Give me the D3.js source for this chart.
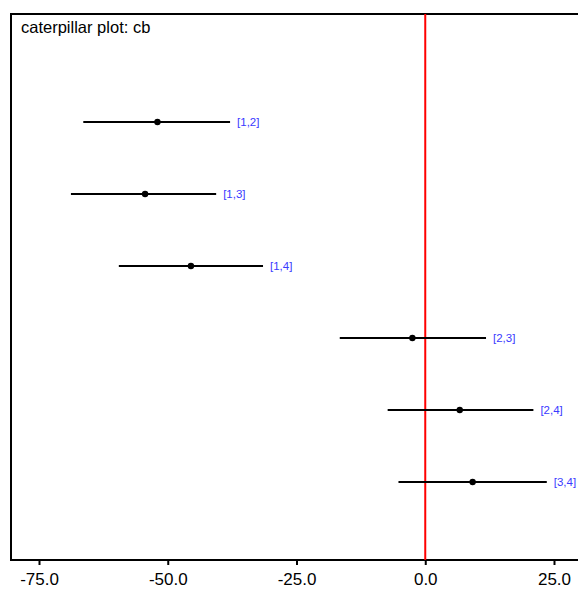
<!DOCTYPE html>
<html>
<head>
<meta charset="utf-8">
<script src="https://cdn.jsdelivr.net/npm/d3@7"></script>
<style>
  body { margin: 0; background: #fff; }
  svg { display: block; font-family: "Liberation Sans", Arial, sans-serif; }
</style>
</head>
<body>
<div id="chart"></div>
<script>
// node pairs and their 95% interval for cb
var labels = ["[1,2]", "[1,3]", "[1,4]", "[2,3]", "[2,4]", "[3,4]"];
var means = [-52.0, -54.4, -45.5, -2.5, 6.7, 9.2];
var lower = [-66.4, -68.8, -59.5, -16.6, -7.3, -5.2];
var upper = [-37.9, -40.6, -31.5, 11.8, 21.0, 23.6];
var ticks = [-75, -50, -25, 0, 25];

var width = 578, height = 589;

var svg = d3.select("#chart")
    .append("svg")
    .attr("width", width)
    .attr("height", height);

// frame runs off the right edge, like the original
var frameLeft = 11, frameTop = 14, frameBottom = 560;

var x = d3.scaleLinear()
    .domain([-75, 25])
    .range([39, 554]);

var y = d3.scaleLinear()
    .domain([0, labels.length - 1])
    .range([122, 482]);

// frame (left, top, bottom)
svg.append("path")
    .attr("d", "M" + (width + 10) + "," + frameTop + "H" + frameLeft + "V" + frameBottom + "H" + (width + 10))
    .attr("fill", "none")
    .attr("stroke", "black")
    .attr("stroke-width", 2);

svg.append("text")
    .attr("x", 21)
    .attr("y", 33)
    .attr("font-size", 16.5)
    .text("caterpillar plot: cb");

// axis
var axis = d3.axisBottom(x)
    .tickValues(ticks)
    .tickSize(5)
    .tickPadding(8)
    .tickFormat(d3.format(".1f"));

var gx = svg.append("g")
    .attr("transform", "translate(0," + frameBottom + ")")
    .call(axis);
gx.select(".domain").remove();
gx.selectAll(".tick line").attr("stroke-width", 2);
gx.selectAll(".tick text")
    .attr("font-size", 17)
    .attr("font-family", "Liberation Sans, Arial, sans-serif")
    .attr("fill", "black")
    .text(d => d3.format(".1f")(d).replace("−", "-"));

// zero line
svg.append("line")
    .attr("x1", x(0)).attr("x2", x(0))
    .attr("y1", frameTop).attr("y2", frameBottom)
    .attr("stroke", "red")
    .attr("stroke-width", 2);

var rows = svg.selectAll(".row")
    .data(labels)
    .enter()
    .append("g");

rows.append("line")
    .attr("x1", (d, i) => x(lower[i]))
    .attr("x2", (d, i) => x(upper[i]))
    .attr("y1", (d, i) => y(i))
    .attr("y2", (d, i) => y(i))
    .attr("stroke", "black")
    .attr("stroke-width", 2);

rows.append("circle")
    .attr("cx", (d, i) => x(means[i]))
    .attr("cy", (d, i) => y(i))
    .attr("r", 3.2)
    .attr("fill", "black");

rows.append("text")
    .attr("x", (d, i) => x(upper[i]) + 7)
    .attr("y", (d, i) => y(i))
    .attr("dy", "0.35em")
    .attr("font-size", 11.5)
    .attr("fill", "#3a3aff")
    .text(d => d);
</script>
</body>
</html>
